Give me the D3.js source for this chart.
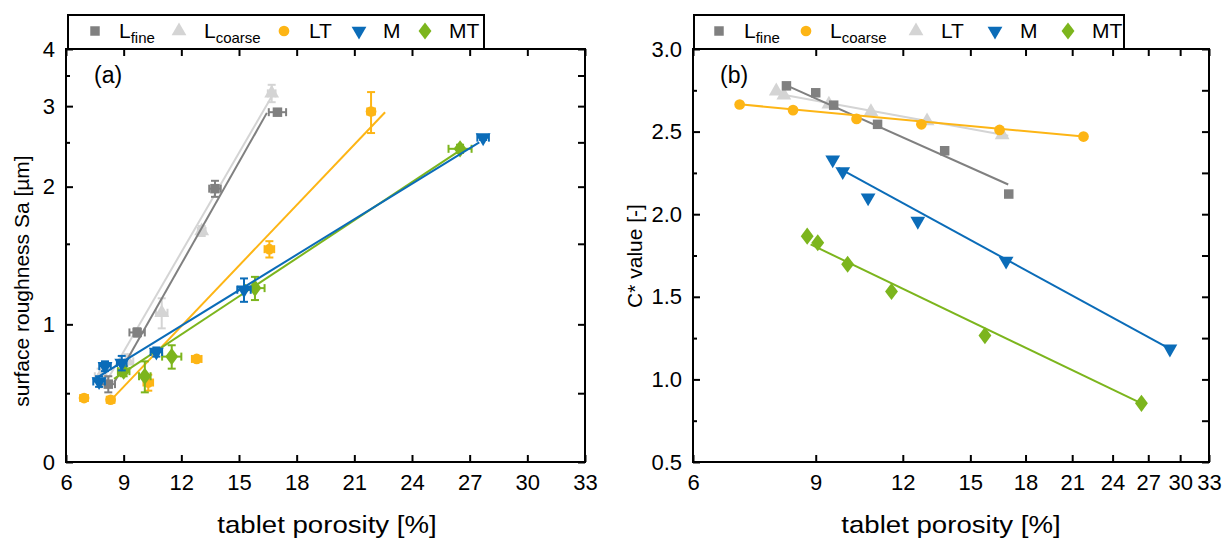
<!DOCTYPE html>
<html>
<head>
<meta charset="utf-8">
<script src="https://cdn.jsdelivr.net/npm/d3@7"></script>
<style>
  body { margin: 0; background: #fff; }
  svg text { font-family: "Liberation Sans", Arial, sans-serif; fill: #000; }
</style>
</head>
<body>
<svg id="chart" width="1226" height="541"></svg>
<script>
// ---- data, panel (a): surface roughness vs porosity ----
var a_lfine_x = [8.2, 9.7, 13.75, 17.0];
var a_lfine_y = [0.74, 0.96, 1.98, 2.91];
var a_lfine_xe = [0.35, 0.4, 0.3, 0.45];
var a_lfine_ye = [0.03, 0.02, 0.08, 0.04];
var a_lfine_fit = [[8.5, 0.745], [16.45, 2.9]];

var a_lcoarse_x = [7.8, 9.2, 10.98, 13.06, 16.7];
var a_lcoarse_y = [0.77, 0.83, 1.06, 1.6, 3.2];
var a_lcoarse_xe = [0.3, 0.3, 0.3, 0.2, 0.2];
var a_lcoarse_ye = [0.03, 0.03, 0.08, 0.04, 0.14];
var a_lcoarse_fit = [[8.1, 0.75], [16.7, 3.15]];

var a_lt_x = [6.94, 8.32, 10.28, 12.8, 16.58, 21.87];
var a_lt_y = [0.69, 0.684, 0.746, 0.84, 1.46, 2.92];
var a_lt_xe = [0.2, 0.2, 0.25, 0.25, 0.25, 0.2];
var a_lt_ye = [0.01, 0.01, 0.03, 0.01, 0.06, 0.3];
var a_lt_fit = [[8.3, 0.68], [22.6, 2.91]];

var a_m_x = [7.72, 8.03, 8.9, 10.7, 15.26, 27.7];
var a_m_y = [0.75, 0.81, 0.823, 0.87, 1.19, 2.56];
var a_m_xe = [0.3, 0.3, 0.25, 0.3, 0.35, 0.3];
var a_m_ye = [0.02, 0.02, 0.03, 0.02, 0.07, 0.03];
var a_m_fit = [[7.4, 0.755], [27.5, 2.5]];

var a_mt_x = [9.0, 10.1, 11.5, 15.83, 26.5];
var a_mt_y = [0.79, 0.77, 0.85, 1.2, 2.42];
var a_mt_xe = [0.3, 0.3, 0.5, 0.5, 0.6];
var a_mt_ye = [0.02, 0.06, 0.05, 0.07, 0.05];
var a_mt_fit = [[8.5, 0.76], [26.5, 2.4]];

// ---- data, panel (b): C* value vs porosity ----
var b_lfine_x = [8.17, 9.0, 9.55, 11.04, 13.78, 17.03];
var b_lfine_y = [2.777, 2.735, 2.66, 2.544, 2.384, 2.122];
var b_lfine_fit = [[8.17, 2.78], [17.0, 2.18]];

var b_lcoarse_x = [7.0, 8.35, 10.3, 12.76, 16.52, 21.8];
var b_lcoarse_y = [2.664, 2.63, 2.577, 2.544, 2.51, 2.47];
var b_lcoarse_fit = [[7.0, 2.665], [21.8, 2.47]];

var b_lt_x = [7.9, 8.1, 9.4, 10.8, 13.0, 16.66];
var b_lt_y = [2.745, 2.72, 2.665, 2.62, 2.564, 2.48];
var b_lt_fit = [[7.9, 2.73], [17.0, 2.475]];

var b_m_x = [9.52, 9.84, 10.7, 12.61, 16.88, 29.0];
var b_m_y = [2.33, 2.259, 2.10, 1.958, 1.717, 1.185];
var b_m_fit = [[9.7, 2.28], [29.0, 1.185]];

var b_mt_x = [8.75, 9.06, 10.0, 11.56, 15.74, 26.4];
var b_mt_y = [1.867, 1.827, 1.697, 1.532, 1.265, 0.855];
var b_mt_fit = [[8.85, 1.817], [26.4, 0.855]];

// ---- ticks ----
var x_ticks = [6, 9, 12, 15, 18, 21, 24, 27, 30, 33];
var a_y_ticks = [0.5, 1, 2, 3, 4];
var a_y_labels = ["0", "1", "2", "3", "4"];
var a_y_minor = [0.707, 1.5, 2.5, 3.5];
var b_y_ticks = [0.5, 1.0, 1.5, 2.0, 2.5, 3.0];
var b_y_minor = [0.75, 1.25, 1.75, 2.25, 2.75];

var a_legend = ["fine", "coarse", "LT", "M", "MT"];
var b_legend = ["fine", "coarse", "LT", "M", "MT"];

var c_dark = "#808080", c_light = "#d4d4d4", c_orange = "#fdb515",
    c_blue = "#0b6cb8", c_green = "#7cb51d";

var svg = d3.select("#chart");

var plotTop = 49, plotBottom = 462;
var xA = d3.scaleLinear().domain([6, 33]).range([66, 585]);
var yA = d3.scaleLog().domain([0.5, 4]).range([plotBottom, plotTop]);
var xB = d3.scaleLog().domain([6, 33]).range([693, 1209]);
var yB = d3.scaleLinear().domain([0.5, 3.0]).range([plotBottom, plotTop]);

var sym = {
    square: d3.symbol().type(d3.symbolSquare).size(90),
    tri: d3.symbol().type(d3.symbolTriangle).size(95),
    circle: d3.symbol().type(d3.symbolCircle).size(90),
    diamond: d3.symbol().type(d3.symbolDiamond).size(85)
};

function shapeTransform(shape) {
    if (shape.flip) return " rotate(180)";
    if (shape.type == "diamond") return " scale(1.3,1)";
    return "";
}

function zip(xs, ys, xe, ye) {
    return xs.map(function(x, i) {
        return {x: x, y: ys[i], xe: xe ? xe[i] : 0, ye: ye ? ye[i] : 0};
    });
}

function drawAxes(g, x, y, yTicks, yLabels, yMinor, yFmt) {
    g.append("g")
        .attr("transform", "translate(0," + plotBottom + ")")
        .call(d3.axisBottom(x).tickValues(x_ticks).tickFormat(d3.format("d"))
            .tickSizeInner(-7).tickSizeOuter(0).tickPadding(12));
    g.append("g")
        .attr("transform", "translate(0," + plotTop + ")")
        .call(d3.axisTop(x).tickValues(x_ticks).tickFormat("")
            .tickSizeInner(-7).tickSizeOuter(0));
    var left = x.range()[0], right = x.range()[1];
    g.append("g")
        .attr("transform", "translate(" + left + ",0)")
        .call(d3.axisLeft(y).tickValues(yTicks)
            .tickFormat(function(d, i) { return yLabels ? yLabels[i] : yFmt(d); })
            .tickSizeInner(-7).tickSizeOuter(0).tickPadding(11));
    g.append("g")
        .attr("transform", "translate(" + left + ",0)")
        .call(d3.axisLeft(y).tickValues(yMinor).tickFormat("")
            .tickSizeInner(-4).tickSizeOuter(0));
    g.append("g")
        .attr("transform", "translate(" + right + ",0)")
        .call(d3.axisRight(y).tickValues(yTicks.concat(yMinor)).tickFormat("")
            .tickSizeInner(-7).tickSizeOuter(0));
    g.selectAll(".domain").remove();
    g.selectAll(".tick line").attr("stroke", "#000").attr("stroke-width", 2);
    g.selectAll(".tick text").attr("font-size", 22).attr("fill", "#000")
        .style("font-family", "Liberation Sans, Arial, sans-serif");
    g.append("rect")
        .attr("x", left).attr("y", plotTop)
        .attr("width", right - left).attr("height", plotBottom - plotTop)
        .attr("fill", "none").attr("stroke", "#000").attr("stroke-width", 2);
}

function drawSeries(g, x, y, pts, fit, color, shape, errs) {
    var line = d3.line().x(function(d) { return x(d[0]); }).y(function(d) { return y(d[1]); });
    g.append("path").attr("d", line(fit))
        .attr("fill", "none").attr("stroke", color).attr("stroke-width", 2);
    if (errs) {
        var eb = g.append("g").attr("stroke", color).attr("stroke-width", 2).attr("fill", "none");
        pts.forEach(function(p) {
            var cx = x(p.x), cy = y(p.y);
            var x0 = x(p.x - p.xe), x1 = x(p.x + p.xe);
            var y0 = y(p.y - p.ye), y1 = y(p.y + p.ye);
            eb.append("line").attr("x1", x0).attr("x2", x1).attr("y1", cy).attr("y2", cy);
            eb.append("line").attr("x1", x0).attr("x2", x0).attr("y1", cy - 4).attr("y2", cy + 4);
            eb.append("line").attr("x1", x1).attr("x2", x1).attr("y1", cy - 4).attr("y2", cy + 4);
            eb.append("line").attr("x1", cx).attr("x2", cx).attr("y1", y0).attr("y2", y1);
            eb.append("line").attr("x1", cx - 4).attr("x2", cx + 4).attr("y1", y0).attr("y2", y0);
            eb.append("line").attr("x1", cx - 4).attr("x2", cx + 4).attr("y1", y1).attr("y2", y1);
        });
    }
    g.selectAll(null).data(pts).enter().append("path")
        .attr("d", sym[shape.type]())
        .attr("transform", function(d) {
            return "translate(" + x(d.x) + "," + y(d.y) + ")" + shapeTransform(shape);
        })
        .attr("fill", color);
}

function drawLegend(g, x0, x1, items) {
    g.append("rect").attr("x", x0).attr("y", 15).attr("width", x1 - x0).attr("height", 34)
        .attr("fill", "#fff").attr("stroke", "#000").attr("stroke-width", 2);
    items.forEach(function(it) {
        g.append("path").attr("d", sym[it.shape.type]())
            .attr("transform", "translate(" + it.mx + ",31)" + shapeTransform(it.shape))
            .attr("fill", it.color);
        var t = g.append("text").attr("x", it.tx).attr("y", 38).attr("font-size", 21);
        if (it.sub) {
            t.append("tspan").text("L");
            t.append("tspan").attr("font-size", 15).attr("dy", 5).text(it.sub);
        } else {
            t.text(it.label);
        }
    });
}

function xTitle(g, cx, label) {
    g.append("text").attr("transform", "translate(" + cx + ",533) scale(1.15,1)")
        .attr("text-anchor", "middle").attr("font-size", 24).text(label);
}

// ---------- panel (a) ----------
var ga = svg.append("g");
drawAxes(ga, xA, yA, a_y_ticks, a_y_labels, a_y_minor);
drawSeries(ga, xA, yA, zip(a_lcoarse_x, a_lcoarse_y, a_lcoarse_xe, a_lcoarse_ye), a_lcoarse_fit, c_light, {type: "tri"}, true);
drawSeries(ga, xA, yA, zip(a_lfine_x, a_lfine_y, a_lfine_xe, a_lfine_ye), a_lfine_fit, c_dark, {type: "square"}, true);
drawSeries(ga, xA, yA, zip(a_lt_x, a_lt_y, a_lt_xe, a_lt_ye), a_lt_fit, c_orange, {type: "circle"}, true);
drawSeries(ga, xA, yA, zip(a_mt_x, a_mt_y, a_mt_xe, a_mt_ye), a_mt_fit, c_green, {type: "diamond"}, true);
drawSeries(ga, xA, yA, zip(a_m_x, a_m_y, a_m_xe, a_m_ye), a_m_fit, c_blue, {type: "tri", flip: true}, true);

ga.append("text").attr("x", 94).attr("y", 83).attr("font-size", 23).text("(a)");
xTitle(ga, 327, "tablet porosity [%]");
ga.append("text").attr("transform", "translate(29,281) rotate(-90)")
    .attr("text-anchor", "middle").attr("font-size", 21).text("surface roughness Sa [µm]");

drawLegend(ga, 68, 484, [
    {sub: a_legend[0], shape: {type: "square"}, color: c_dark, mx: 95, tx: 119},
    {sub: a_legend[1], shape: {type: "tri"}, color: c_light, mx: 179, tx: 204},
    {label: a_legend[2], shape: {type: "circle"}, color: c_orange, mx: 284, tx: 309},
    {label: a_legend[3], shape: {type: "tri", flip: true}, color: c_blue, mx: 359, tx: 383},
    {label: a_legend[4], shape: {type: "diamond"}, color: c_green, mx: 425, tx: 449}
]);

// ---------- panel (b) ----------
var gb = svg.append("g");
drawAxes(gb, xB, yB, b_y_ticks, null, b_y_minor, d3.format(".1f"));
drawSeries(gb, xB, yB, zip(b_lt_x, b_lt_y), b_lt_fit, c_light, {type: "tri"}, false);
drawSeries(gb, xB, yB, zip(b_lfine_x, b_lfine_y), b_lfine_fit, c_dark, {type: "square"}, false);
drawSeries(gb, xB, yB, zip(b_lcoarse_x, b_lcoarse_y), b_lcoarse_fit, c_orange, {type: "circle"}, false);
drawSeries(gb, xB, yB, zip(b_m_x, b_m_y), b_m_fit, c_blue, {type: "tri", flip: true}, false);
drawSeries(gb, xB, yB, zip(b_mt_x, b_mt_y), b_mt_fit, c_green, {type: "diamond"}, false);

gb.append("text").attr("x", 720).attr("y", 83).attr("font-size", 23).text("(b)");
xTitle(gb, 951, "tablet porosity [%]");
gb.append("text").attr("transform", "translate(642,256) rotate(-90)")
    .attr("text-anchor", "middle").attr("font-size", 21).text("C* value [-]");

drawLegend(gb, 694, 1124, [
    {sub: b_legend[0], shape: {type: "square"}, color: c_dark, mx: 719, tx: 744},
    {sub: b_legend[1], shape: {type: "circle"}, color: c_orange, mx: 806, tx: 830},
    {label: b_legend[2], shape: {type: "tri"}, color: c_light, mx: 916, tx: 941},
    {label: b_legend[3], shape: {type: "tri", flip: true}, color: c_blue, mx: 995, tx: 1020},
    {label: b_legend[4], shape: {type: "diamond"}, color: c_green, mx: 1068, tx: 1092}
]);
</script>
</body>
</html>
